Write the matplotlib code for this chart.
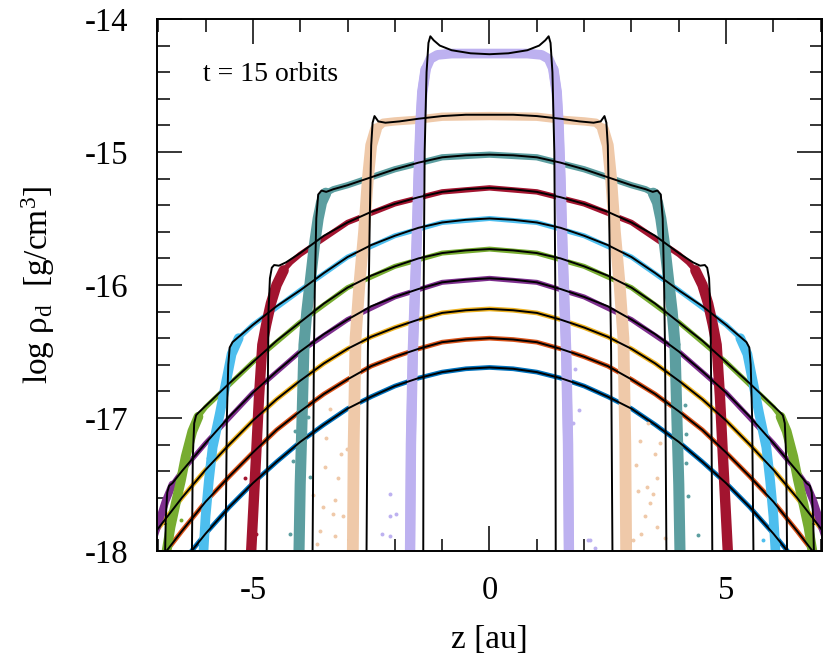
import matplotlib
matplotlib.use("Agg")
import matplotlib.pyplot as plt  # noqa: E402
from matplotlib.ticker import MultipleLocator  # noqa: E402

plt.rcParams["font.family"] = ["Liberation Serif", "DejaVu Serif"]
plt.rcParams["mathtext.fontset"] = "custom"
plt.rcParams["mathtext.rm"] = "Liberation Serif"
plt.rcParams["mathtext.it"] = "Liberation Serif:italic"
plt.rcParams["axes.unicode_minus"] = False

# ---- data (z in au, log rho_d in g/cm^3) ----
# outer species: no settling front inside the plotted range
Z_OUT = [-7.5, -7.0, -6.5, -6.0, -5.5, -5.0, -4.5, -4.0, -3.5, -3.0, -2.5, -2.0, -1.5, -1.0, -0.5, 0.0,
         0.5, 1.0, 1.5, 2.0, 2.5, 3.0, 3.5, 4.0, 4.5, 5.0, 5.5, 6.0, 6.5, 7.0, 7.5]
blue_y = [-18.58, -18.33, -18.09, -17.87, -17.67, -17.49, -17.33, -17.18, -17.05, -16.93, -16.84, -16.76,
          -16.70, -16.655, -16.63, -16.62, -16.63, -16.655, -16.70, -16.76, -16.84, -16.93, -17.05, -17.18,
          -17.33, -17.49, -17.67, -17.87, -18.09, -18.33, -18.58]
orange_y = [-18.32, -18.08, -17.85, -17.63, -17.44, -17.26, -17.09, -16.95, -16.82, -16.71, -16.61, -16.54,
            -16.48, -16.43, -16.41, -16.40, -16.41, -16.43, -16.48, -16.54, -16.61, -16.71, -16.82, -16.95,
            -17.09, -17.26, -17.44, -17.63, -17.85, -18.08, -18.32]
yellow_y = [-18.08, -17.83, -17.60, -17.39, -17.20, -17.02, -16.86, -16.72, -16.59, -16.48, -16.39, -16.32,
            -16.26, -16.21, -16.19, -16.18, -16.19, -16.21, -16.26, -16.32, -16.39, -16.48, -16.59, -16.72,
            -16.86, -17.02, -17.20, -17.39, -17.60, -17.83, -18.08]

# purple: analytic curve and particle band
purple_z = [-6.86, -6.84, -6.81, -6.77, -6.7, -6.5, -6.0, -5.5, -5.0, -4.5, -4.0, -3.5, -3.0, -2.5, -2.0, -1.5,
            -1.0, -0.5, 0.0, 0.5, 1.0, 1.5, 2.0, 2.5, 3.0, 3.5, 4.0, 4.5, 5.0, 5.5, 6.0, 6.5, 6.7, 6.77,
            6.81, 6.84, 6.86]
purple_y = [-18.1, -17.75, -17.56, -17.51, -17.49, -17.40, -17.19, -16.99, -16.81, -16.65, -16.50, -16.37,
            -16.26, -16.16, -16.09, -16.03, -15.98, -15.96, -15.95, -15.96, -15.98, -16.03, -16.09, -16.16,
            -16.26, -16.37, -16.50, -16.65, -16.81, -16.99, -17.19, -17.40, -17.49, -17.51, -17.56, -17.75,
            -18.1]
purple_pz = [-7.1, -6.95, -6.85, -6.7, -6.5, -6.0, -5.0, -4.0, -3.0, -2.0, -1.0, 0.0, 1.0, 2.0, 3.0, 4.0,
             5.0, 6.0, 6.5, 6.7, 6.85, 6.95, 7.1]
purple_py = [-17.9, -17.74, -17.63, -17.50, -17.40, -17.19, -16.81, -16.50, -16.26, -16.09, -15.98, -15.95,
             -15.98, -16.09, -16.26, -16.50, -16.81, -17.19, -17.40, -17.50, -17.63, -17.74, -17.9]

# green
green_z = [-6.29, -6.27, -6.24, -6.2, -6.15, -6.0, -5.5, -5.0, -4.5, -4.0, -3.5, -3.0, -2.5, -2.0, -1.5, -1.0,
           -0.5, 0.0, 0.5, 1.0, 1.5, 2.0, 2.5, 3.0, 3.5, 4.0, 4.5, 5.0, 5.5, 6.0, 6.15, 6.2, 6.24, 6.27, 6.29]
green_y = [-18.1, -17.3, -17.04, -16.98, -16.96, -16.91, -16.74, -16.58, -16.42, -16.28, -16.14, -16.02,
           -15.93, -15.86, -15.80, -15.76, -15.74, -15.73, -15.74, -15.76, -15.80, -15.86, -15.93, -16.02,
           -16.14, -16.28, -16.42, -16.58, -16.74, -16.91, -16.96, -16.98, -17.04, -17.3, -18.1]
green_pz = [-6.87, -6.74, -6.63, -6.52, -6.42, -6.28, -6.15, -6.0, -5.0, -4.0, -3.0, -2.0, -1.0, 0.0, 1.0,
            2.0, 3.0, 4.0, 5.0, 6.0, 6.15, 6.28, 6.42, 6.52, 6.63, 6.74, 6.87]
green_py = [-18.1, -17.82, -17.64, -17.47, -17.29, -17.10, -16.99, -16.92, -16.58, -16.28, -16.02, -15.86,
            -15.76, -15.73, -15.76, -15.86, -16.02, -16.28, -16.58, -16.92, -16.99, -17.10, -17.29, -17.47,
            -17.64, -17.82, -18.1]

# light blue
lblue_z = [-5.58, -5.55, -5.52, -5.49, -5.43, -5.3, -5.0, -4.5, -4.0, -3.5, -3.0, -2.5, -2.0, -1.5, -1.0,
           -0.5, 0.0, 0.5, 1.0, 1.5, 2.0, 2.5, 3.0, 3.5, 4.0, 4.5, 5.0, 5.3, 5.43, 5.49, 5.52, 5.55, 5.58]
lblue_y = [-18.1, -17.0, -16.6, -16.47, -16.43, -16.39, -16.30, -16.16, -16.04, -15.91, -15.79, -15.70,
           -15.63, -15.57, -15.53, -15.51, -15.50, -15.51, -15.53, -15.57, -15.63, -15.70, -15.79, -15.91,
           -16.04, -16.16, -16.30, -16.39, -16.43, -16.47, -16.6, -17.0, -18.1]
lblue_pz = [-6.06, -6.0, -5.93, -5.85, -5.7, -5.55, -5.45, -5.3, -5.0, -4.0, -3.0, -2.0, -1.0, 0.0, 1.0, 2.0,
            3.0, 4.0, 5.0, 5.3, 5.45, 5.55, 5.7, 5.85, 5.93, 6.0, 6.06]
lblue_py = [-18.1, -17.74, -17.47, -17.22, -16.97, -16.70, -16.52, -16.40, -16.30, -16.04, -15.79, -15.63,
            -15.53, -15.50, -15.53, -15.63, -15.79, -16.04, -16.30, -16.40, -16.52, -16.70, -16.97, -17.22,
            -17.47, -17.74, -18.1]

# crimson
crim_z = [-4.71, -4.69, -4.67, -4.64, -4.60, -4.55, -4.45, -4.3, -4.0, -3.5, -3.0, -2.5, -2.0, -1.5, -1.0,
          -0.5, 0.0, 0.5, 1.0, 1.5, 2.0, 2.5, 3.0, 3.5, 4.0, 4.3, 4.45, 4.55, 4.60, 4.64, 4.67, 4.69, 4.71]
crim_y = [-18.1, -17.0, -16.2, -15.95, -15.87, -15.85, -15.855, -15.83, -15.76, -15.63, -15.53, -15.45,
          -15.39, -15.34, -15.30, -15.28, -15.27, -15.28, -15.30, -15.34, -15.39, -15.45, -15.53, -15.63,
          -15.76, -15.83, -15.855, -15.85, -15.87, -15.95, -16.2, -17.0, -18.1]
crim_pz = [-5.05, -4.94, -4.87, -4.8, -4.72, -4.62, -4.5, -4.35, -4.2, -4.0, -3.0, -2.0, -1.0, 0.0, 1.0, 2.0,
           3.0, 4.0, 4.2, 4.35, 4.5, 4.62, 4.72, 4.8, 4.87, 4.94, 5.05]
crim_py = [-18.1, -17.34, -16.84, -16.45, -16.30, -16.14, -16.00, -15.89, -15.83, -15.77, -15.53, -15.39,
           -15.30, -15.27, -15.30, -15.39, -15.53, -15.77, -15.83, -15.89, -16.00, -16.14, -16.30, -16.45,
           -16.84, -17.34, -18.1]

# teal
teal_z = [-3.74, -3.71, -3.69, -3.66, -3.62, -3.55, -3.45, -3.3, -3.0, -2.5, -2.0, -1.5, -1.0, -0.5, 0.0,
          0.5, 1.0, 1.5, 2.0, 2.5, 3.0, 3.3, 3.45, 3.55, 3.62, 3.66, 3.69, 3.71, 3.74]
teal_y = [-18.1, -16.5, -16.0, -15.5, -15.32, -15.29, -15.30, -15.28, -15.25, -15.19, -15.13, -15.08, -15.04,
          -15.025, -15.02, -15.025, -15.04, -15.08, -15.13, -15.19, -15.25, -15.28, -15.30, -15.29, -15.32,
          -15.5, -16.0, -16.5, -18.1]
teal_pz = [-4.03, -4.0, -3.96, -3.92, -3.86, -3.78, -3.70, -3.62, -3.55, -3.46, -3.3, -3.0, -2.0, -1.0, 0.0,
           1.0, 2.0, 3.0, 3.3, 3.46, 3.55, 3.62, 3.70, 3.78, 3.86, 3.92, 3.96, 4.0, 4.03]
teal_py = [-18.1, -17.5, -17.0, -16.45, -16.2, -15.95, -15.7, -15.5, -15.38, -15.31, -15.28, -15.25, -15.13,
           -15.04, -15.02, -15.04, -15.13, -15.25, -15.28, -15.31, -15.38, -15.5, -15.7, -15.95, -16.2,
           -16.45, -17.0, -17.5, -18.1]

# peach
peach_z = [-2.6, -2.57, -2.53, -2.5, -2.47, -2.43, -2.35, -2.2, -1.9, -1.5, -1.0, -0.5, 0.0, 0.5, 1.0, 1.5,
           1.9, 2.2, 2.35, 2.43, 2.47, 2.5, 2.53, 2.57, 2.6]
peach_y = [-18.1, -16.5, -15.5, -14.95, -14.78, -14.73, -14.77, -14.78, -14.77, -14.75, -14.73, -14.72, -14.72,
           -14.72, -14.73, -14.75, -14.77, -14.78, -14.77, -14.73, -14.78, -14.95, -15.5, -16.5, -18.1]
peach_pz = [-2.89, -2.87, -2.83, -2.75, -2.65, -2.57, -2.5, -2.4, -2.25, -2.0, -1.6, -1.0, 0.0, 1.0, 1.6, 2.0,
            2.25, 2.4, 2.5, 2.57, 2.65, 2.75, 2.83, 2.87, 2.89]
peach_py = [-18.1, -17.2, -16.4, -16.0, -15.6, -15.2, -14.95, -14.83, -14.78, -14.77, -14.76, -14.735, -14.73,
            -14.735, -14.76, -14.77, -14.78, -14.83, -14.95, -15.2, -15.6, -16.0, -16.4, -17.2, -18.1]

# lavender
lav_z = [-1.40, -1.39, -1.37, -1.33, -1.29, -1.25, -1.18, -1.05, -0.8, -0.4, 0.0, 0.4, 0.8, 1.05, 1.18, 1.25,
         1.29, 1.33, 1.37, 1.39, 1.40]
lav_y = [-18.1, -16.0, -15.0, -14.4, -14.18, -14.13, -14.16, -14.20, -14.235, -14.258, -14.265, -14.258,
         -14.235, -14.20, -14.16, -14.13, -14.18, -14.4, -15.0, -16.0, -18.1]
lav_pz = [-1.68, -1.66, -1.62, -1.55, -1.5, -1.46, -1.42, -1.35, -1.25, -1.1, -0.8, 0.0, 0.8, 1.1, 1.25, 1.35,
          1.42, 1.46, 1.5, 1.55, 1.62, 1.66, 1.68]
lav_py = [-18.1, -17.2, -16.5, -15.8, -15.2, -14.8, -14.55, -14.38, -14.30, -14.27, -14.26, -14.26, -14.26,
          -14.27, -14.30, -14.38, -14.55, -14.8, -15.2, -15.8, -16.5, -17.2, -18.1]

# stray particles below the settling fronts
peach_sz = [-3.38, -3.48, -3.52, -3.27, -3.10, -3.59, -3.27, -3.13, -3.02, -3.73, -3.31, -3.45, -3.20, -3.65,
            3.18, 3.49, 3.60, 3.32, 3.46, 3.53, 3.14, 3.28, 3.53, 3.21, 3.04, 3.39, 3.35, 3.70, 3.10]
peach_sy = [-16.93, -17.37, -17.67, -17.62, -17.74, -17.85, -17.89, -17.27, -17.23, -17.58, -17.72, -17.15,
            -17.45, -17.95, -17.17, -17.27, -17.19, -17.52, -17.57, -17.45, -17.55, -17.74, -17.82, -17.87,
            -17.92, -17.64, -17.04, -17.90, -17.35]
lav_sz = [-2.11, -2.11, -1.98, -2.28, -2.11, 1.89, 1.77, 2.08, 2.23, 1.80, 2.12]
lav_sy = [-17.57, -17.74, -17.72, -17.87, -17.89, -16.94, -17.04, -17.92, -17.98, -16.63, -17.92]
teal_sz = [-4.15, -4.12, -4.22, -3.83, -3.80, 4.13, 4.16, 4.20, 3.74, 4.16, 4.41, 3.99]
teal_sy = [-17.32, -17.10, -17.87, -16.99, -17.44, -16.90, -17.34, -17.59, -16.89, -17.12, -17.88, -16.44]
crim_sz = [-5.17, -4.93, 4.99]
crim_sy = [-17.45, -17.87, -17.90]
lblue_sz = [-5.95, 5.78]
lblue_sy = [-17.30, -17.92]
green_sz = [-6.51]
green_sy = [-17.77]

C_BLUE = "#0072BD"
C_ORANGE = "#D95319"
C_YELLOW = "#EDB120"
C_PURPLE = "#7E2F8E"
C_GREEN = "#77AC30"
C_LBLUE = "#4DBEEE"
C_CRIM = "#A2142F"
C_TEAL = "#5C9EA0"
C_PEACH = "#EFC9A9"
C_LAV = "#BDB1F0"

fig = plt.figure(figsize=(8.3, 6.59), dpi=100)
ax = fig.add_axes([0.1895, 0.1639, 0.8005, 0.8073])

# particle bands: (z, y, colour, width along the profile, width at the front, points in each front)
bands = [
    (Z_OUT, blue_y, C_BLUE, 3.4, 3.4, 0),
    (Z_OUT, orange_y, C_ORANGE, 3.4, 3.4, 0),
    (Z_OUT, yellow_y, C_YELLOW, 3.4, 3.4, 0),
    (purple_pz, purple_py, C_PURPLE, 3.6, 5.5, 4),
    (green_pz, green_py, C_GREEN, 3.6, 7.0, 7),
    (lblue_pz, lblue_py, C_LBLUE, 3.6, 7.0, 8),
    (crim_pz, crim_py, C_CRIM, 3.9, 7.5, 8),
    (teal_pz, teal_py, C_TEAL, 4.5, 8.0, 10),
    (peach_pz, peach_py, C_PEACH, 6.0, 8.5, 8),
    (lav_pz, lav_py, C_LAV, 7.0, 7.5, 8),
]
for z, y, c, w, wf, n in bands:
    ax.plot(z, y, color=c, lw=w, solid_capstyle="round", solid_joinstyle="round", zorder=2)
    if n:
        ax.plot(z[:n], y[:n], color=c, lw=wf, solid_capstyle="round", zorder=2)
        ax.plot(z[-n:], y[-n:], color=c, lw=wf, solid_capstyle="round", zorder=2)

strays = [
    (peach_sz, peach_sy, C_PEACH), (lav_sz, lav_sy, C_LAV), (teal_sz, teal_sy, C_TEAL),
    (crim_sz, crim_sy, C_CRIM), (lblue_sz, lblue_sy, C_LBLUE), (green_sz, green_sy, C_GREEN),
]
for z, y, c in strays:
    ax.scatter(z, y, s=8, color=c, lw=0, zorder=2)

# analytic solutions
curves = [
    (Z_OUT, blue_y), (Z_OUT, orange_y), (Z_OUT, yellow_y), (purple_z, purple_y), (green_z, green_y),
    (lblue_z, lblue_y), (crim_z, crim_y), (teal_z, teal_y), (peach_z, peach_y), (lav_z, lav_y),
]
for z, y in curves:
    ax.plot(z, y, color="black", lw=1.4, zorder=3)

ax.set_xlim(-7.02, 7.02)
ax.set_ylim(-18, -14)
ax.xaxis.set_major_locator(MultipleLocator(5))
ax.xaxis.set_minor_locator(MultipleLocator(1))
ax.yaxis.set_major_locator(MultipleLocator(1))
ax.yaxis.set_minor_locator(MultipleLocator(0.2))
ax.tick_params(which="both", direction="in", top=True, right=True, width=1.1, labelsize=23.5)
ax.tick_params(which="major", length=18)
ax.tick_params(which="minor", length=9)
ax.tick_params(axis="x", which="major", pad=18)
ax.tick_params(axis="y", which="major", pad=21)
for s in ax.spines.values():
    s.set_linewidth(1.4)

ax.set_xlabel("z [au]", fontsize=24, labelpad=13)
ax.set_ylabel(r"log ρ$_{\rm d}$  [g/cm$^{\rm 3}$]", fontsize=24, labelpad=20)
ax.text(0.069, 0.895, "t = 15 orbits", transform=ax.transAxes, fontsize=20, va="center", ha="left")

fig.savefig("out.png", dpi=100)
